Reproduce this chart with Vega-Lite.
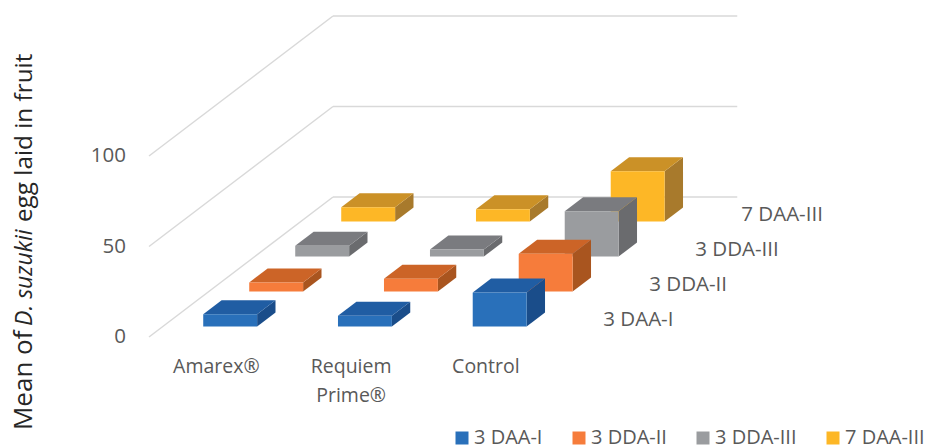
{
"$schema":"https://vega.github.io/schema/vega-lite/v6.json",
"width":928,"height":446,"padding":0,"autosize":{"type":"none"},
"background":"white",
"config":{"view":{"stroke":null},"axis":{"disable":true},"text":{"font":"Open Sans","color":"#595959"}},
"datasets":{
"bars":[
{"treatment":"Amarex®","series":"3 DAA-I","value":6.8},
{"treatment":"Amarex®","series":"3 DDA-II","value":5},
{"treatment":"Amarex®","series":"3 DDA-III","value":5.9},
{"treatment":"Amarex®","series":"7 DAA-III","value":7.9},
{"treatment":"Requiem Prime®","series":"3 DAA-I","value":6},
{"treatment":"Requiem Prime®","series":"3 DDA-II","value":7},
{"treatment":"Requiem Prime®","series":"3 DDA-III","value":3.9},
{"treatment":"Requiem Prime®","series":"7 DAA-III","value":6.8},
{"treatment":"Control","series":"3 DAA-I","value":18.8},
{"treatment":"Control","series":"3 DDA-II","value":20.8},
{"treatment":"Control","series":"3 DDA-III","value":25},
{"treatment":"Control","series":"7 DAA-III","value":27.8}
],
"levels":[{"level":0},{"level":50},{"level":100}]
},
"layer":[
{"data":{"name":"levels"},
 "transform":[{"calculate":"0.34137*4","as":"backX"},{"calculate":"datum.level+19.337*4","as":"backY"},{"calculate":"3+datum.backX","as":"endX"},{"calculate":"0","as":"frontX"}],
 "layer":[
 {"mark":{"type":"rule","color":"#d9d9d9","strokeWidth":1.5},
  "encoding":{"x":{"field":"frontX","type":"quantitative","scale":{"domain":[-1.1058,5.7811],"nice":false,"zero":false}},"x2":{"field":"backX"},
   "y":{"field":"level","type":"quantitative","scale":{"domain":[-60.22,186.19],"nice":false,"zero":false}},"y2":{"field":"backY"}}},
 {"mark":{"type":"rule","color":"#d9d9d9","strokeWidth":1.5},
  "encoding":{"x":{"field":"backX","type":"quantitative","scale":{"domain":[-1.1058,5.7811],"nice":false,"zero":false}},"x2":{"field":"endX"},
   "y":{"field":"backY","type":"quantitative","scale":{"domain":[-60.22,186.19],"nice":false,"zero":false}}}},
 {"mark":{"type":"text","align":"right","baseline":"middle","dx":-23,"fontSize":20.5},
  "encoding":{"x":{"field":"frontX","type":"quantitative","scale":{"domain":[-1.1058,5.7811],"nice":false,"zero":false}},
   "y":{"field":"level","type":"quantitative","scale":{"domain":[-60.22,186.19],"nice":false,"zero":false}},
   "text":{"field":"level","type":"quantitative"}}}
 ]},
{"data":{"name":"bars"},
 "transform":[
  {"calculate":"indexof(['Amarex®','Requiem Prime®','Control'],datum.treatment)","as":"ui"},
  {"calculate":"indexof(['3 DAA-I','3 DDA-II','3 DDA-III','7 DAA-III'],datum.series)","as":"sj"},
  {"calculate":"[0,1]","as":"edge"},
  {"flatten":["edge"]},
  {"calculate":"datum.sj+0.3+0.4*datum.edge","as":"v"},
  {"calculate":"datum.ui+0.3+0.34137*datum.v","as":"xL"},
  {"calculate":"datum.ui+0.7+0.34137*datum.v","as":"xR"},
  {"calculate":"19.337*datum.v","as":"yB"},
  {"calculate":"datum.value+19.337*datum.v","as":"yT"}
 ],
 "layer":[
 {"transform":[{"filter":"datum.sj==3"}],"mark":{"type":"area","color":"#A87A2C"},"encoding":{"x":{"field":"xR","type":"quantitative","scale":{"domain":[-1.1058,5.7811],"nice":false,"zero":false}},"y":{"field":"yB","type":"quantitative","stack":null,"scale":{"domain":[-60.22,186.19],"nice":false,"zero":false}},"y2":{"field":"yT"},"detail":{"field":"treatment"}}},
 {"transform":[{"filter":"datum.sj==3"}],"mark":{"type":"area","orient":"horizontal","color":"#CB9127"},"encoding":{"y":{"field":"yT","type":"quantitative","scale":{"domain":[-60.22,186.19],"nice":false,"zero":false}},"x":{"field":"xL","type":"quantitative","stack":null,"scale":{"domain":[-1.1058,5.7811],"nice":false,"zero":false}},"x2":{"field":"xR"},"detail":{"field":"treatment"}}},
 {"transform":[{"filter":"datum.sj==3 && datum.edge==0"}],"mark":{"type":"rect"},"encoding":{"x":{"field":"xL","type":"quantitative","scale":{"domain":[-1.1058,5.7811],"nice":false,"zero":false}},"x2":{"field":"xR"},"y":{"field":"yB","type":"quantitative","scale":{"domain":[-60.22,186.19],"nice":false,"zero":false}},"y2":{"field":"yT"},
   "color":{"field":"series","type":"nominal","scale":{"domain":["3 DAA-I","3 DDA-II","3 DDA-III","7 DAA-III"],"range":["#2970BA","#F67C3B","#9A9C9F","#FDB726"]},
    "legend":{"title":null,"orient":"none","legendX":452,"legendY":428,"direction":"horizontal","columns":4,"columnPadding":26,"symbolType":"square","symbolSize":169,"symbolStrokeWidth":0,"symbolOpacity":1,"labelFont":"Open Sans","labelFontSize":20,"labelColor":"#595959","labelOffset":2,"labelLimit":200}}}},

 {"transform":[{"filter":"datum.sj==2"}],"mark":{"type":"area","color":"#6A6B6E"},"encoding":{"x":{"field":"xR","type":"quantitative","scale":{"domain":[-1.1058,5.7811],"nice":false,"zero":false}},"y":{"field":"yB","type":"quantitative","stack":null,"scale":{"domain":[-60.22,186.19],"nice":false,"zero":false}},"y2":{"field":"yT"},"detail":{"field":"treatment"}}},
 {"transform":[{"filter":"datum.sj==2"}],"mark":{"type":"area","orient":"horizontal","color":"#7A7B7F"},"encoding":{"y":{"field":"yT","type":"quantitative","scale":{"domain":[-60.22,186.19],"nice":false,"zero":false}},"x":{"field":"xL","type":"quantitative","stack":null,"scale":{"domain":[-1.1058,5.7811],"nice":false,"zero":false}},"x2":{"field":"xR"},"detail":{"field":"treatment"}}},
 {"transform":[{"filter":"datum.sj==2 && datum.edge==0"}],"mark":{"type":"rect"},"encoding":{"x":{"field":"xL","type":"quantitative","scale":{"domain":[-1.1058,5.7811],"nice":false,"zero":false}},"x2":{"field":"xR"},"y":{"field":"yB","type":"quantitative","scale":{"domain":[-60.22,186.19],"nice":false,"zero":false}},"y2":{"field":"yT"},"color":{"field":"series","type":"nominal"}}},

 {"transform":[{"filter":"datum.sj==1"}],"mark":{"type":"area","color":"#A9551F"},"encoding":{"x":{"field":"xR","type":"quantitative","scale":{"domain":[-1.1058,5.7811],"nice":false,"zero":false}},"y":{"field":"yB","type":"quantitative","stack":null,"scale":{"domain":[-60.22,186.19],"nice":false,"zero":false}},"y2":{"field":"yT"},"detail":{"field":"treatment"}}},
 {"transform":[{"filter":"datum.sj==1"}],"mark":{"type":"area","orient":"horizontal","color":"#CC6427"},"encoding":{"y":{"field":"yT","type":"quantitative","scale":{"domain":[-60.22,186.19],"nice":false,"zero":false}},"x":{"field":"xL","type":"quantitative","stack":null,"scale":{"domain":[-1.1058,5.7811],"nice":false,"zero":false}},"x2":{"field":"xR"},"detail":{"field":"treatment"}}},
 {"transform":[{"filter":"datum.sj==1 && datum.edge==0"}],"mark":{"type":"rect"},"encoding":{"x":{"field":"xL","type":"quantitative","scale":{"domain":[-1.1058,5.7811],"nice":false,"zero":false}},"x2":{"field":"xR"},"y":{"field":"yB","type":"quantitative","scale":{"domain":[-60.22,186.19],"nice":false,"zero":false}},"y2":{"field":"yT"},"color":{"field":"series","type":"nominal"}}},

 {"transform":[{"filter":"datum.sj==0"}],"mark":{"type":"area","color":"#1A4D8A"},"encoding":{"x":{"field":"xR","type":"quantitative","scale":{"domain":[-1.1058,5.7811],"nice":false,"zero":false}},"y":{"field":"yB","type":"quantitative","stack":null,"scale":{"domain":[-60.22,186.19],"nice":false,"zero":false}},"y2":{"field":"yT"},"detail":{"field":"treatment"}}},
 {"transform":[{"filter":"datum.sj==0"}],"mark":{"type":"area","orient":"horizontal","color":"#205DA3"},"encoding":{"y":{"field":"yT","type":"quantitative","scale":{"domain":[-60.22,186.19],"nice":false,"zero":false}},"x":{"field":"xL","type":"quantitative","stack":null,"scale":{"domain":[-1.1058,5.7811],"nice":false,"zero":false}},"x2":{"field":"xR"},"detail":{"field":"treatment"}}},
 {"transform":[{"filter":"datum.sj==0 && datum.edge==0"}],"mark":{"type":"rect"},"encoding":{"x":{"field":"xL","type":"quantitative","scale":{"domain":[-1.1058,5.7811],"nice":false,"zero":false}},"x2":{"field":"xR"},"y":{"field":"yB","type":"quantitative","scale":{"domain":[-60.22,186.19],"nice":false,"zero":false}},"y2":{"field":"yT"},"color":{"field":"series","type":"nominal"}}},

 {"transform":[{"filter":"datum.sj==0 && datum.edge==0"},{"calculate":"datum.ui+0.5","as":"uc"},{"calculate":"0","as":"y0"},{"calculate":"replace(datum.treatment,' ','\\n')","as":"label"}],
  "mark":{"type":"text","align":"center","baseline":"middle","dy":30,"fontSize":19.5,"lineBreak":"\n","lineHeight":29},
  "encoding":{"x":{"field":"uc","type":"quantitative","scale":{"domain":[-1.1058,5.7811],"nice":false,"zero":false}},"y":{"field":"y0","type":"quantitative","scale":{"domain":[-60.22,186.19],"nice":false,"zero":false}},"text":{"field":"label","type":"nominal"}}},
 {"transform":[{"filter":"datum.ui==2 && datum.edge==0"},{"calculate":"3+0.34137*(datum.sj+0.5)","as":"lx"},{"calculate":"19.337*(datum.sj+0.5)","as":"ly"}],
  "mark":{"type":"text","align":"left","baseline":"middle","dx":27,"dy":0,"fontSize":20.5},
  "encoding":{"x":{"field":"lx","type":"quantitative","scale":{"domain":[-1.1058,5.7811],"nice":false,"zero":false}},"y":{"field":"ly","type":"quantitative","scale":{"domain":[-60.22,186.19],"nice":false,"zero":false}},"text":{"field":"series","type":"nominal"}}}
 ]},
{"data":{"values":[{"t":"Mean of"}]},"mark":{"type":"text","angle":270,"align":"left","baseline":"alphabetic","fontSize":26,"color":"#262626"},
 "encoding":{"x":{"datum":-0.8680,"type":"quantitative","scale":{"domain":[-1.1058,5.7811],"nice":false,"zero":false}},"y":{"datum":-51.4,"type":"quantitative","scale":{"domain":[-60.22,186.19],"nice":false,"zero":false}},"text":{"field":"t","type":"nominal"}}},
{"data":{"values":[{"t":"D. suzukii"}]},"mark":{"type":"text","angle":270,"align":"left","baseline":"alphabetic","fontSize":23,"fontStyle":"italic","color":"#262626"},
 "encoding":{"x":{"datum":-0.8680,"type":"quantitative","scale":{"domain":[-1.1058,5.7811],"nice":false,"zero":false}},"y":{"datum":6.1,"type":"quantitative","scale":{"domain":[-60.22,186.19],"nice":false,"zero":false}},"text":{"field":"t","type":"nominal"}}},
{"data":{"values":[{"t":"egg laid in fruit"}]},"mark":{"type":"text","angle":270,"align":"left","baseline":"alphabetic","fontSize":24.3,"color":"#262626"},
 "encoding":{"x":{"datum":-0.8680,"type":"quantitative","scale":{"domain":[-1.1058,5.7811],"nice":false,"zero":false}},"y":{"datum":63.5,"type":"quantitative","scale":{"domain":[-60.22,186.19],"nice":false,"zero":false}},"text":{"field":"t","type":"nominal"}}}
]
}
